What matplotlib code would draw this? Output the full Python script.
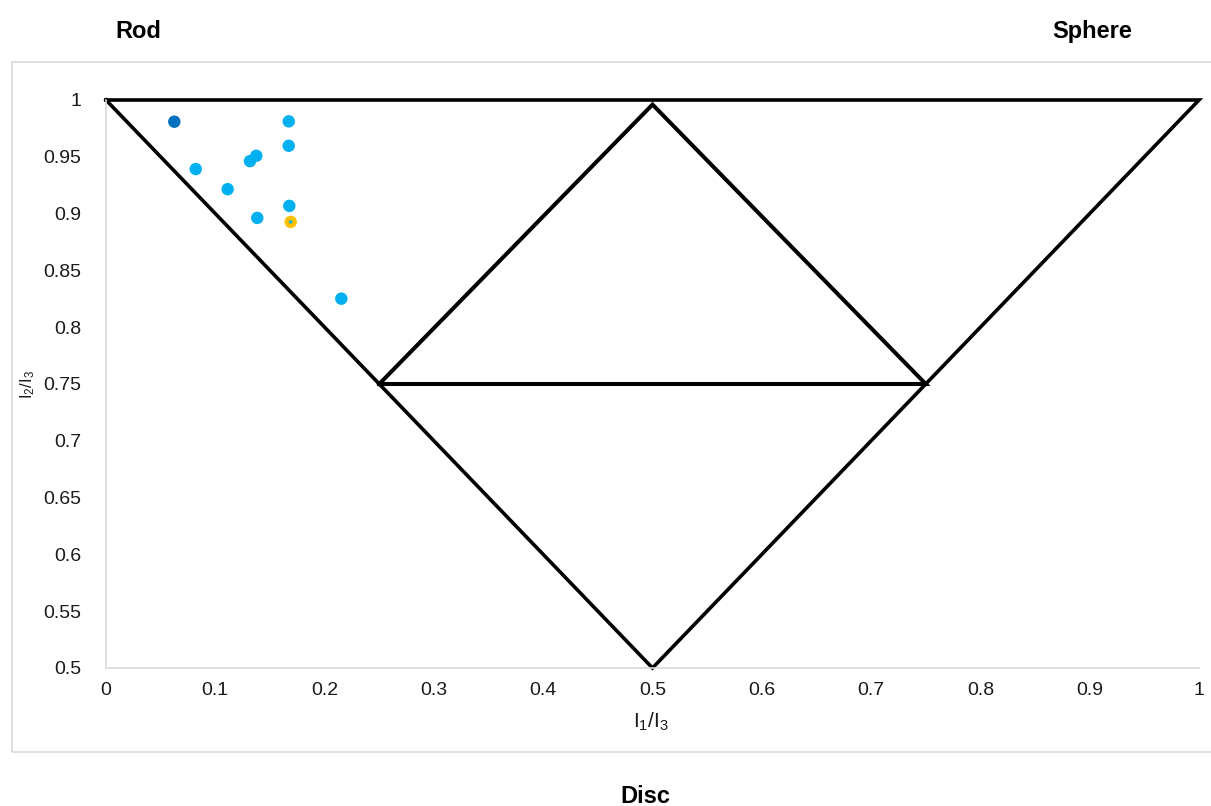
import matplotlib
matplotlib.use("Agg")
import matplotlib.pyplot as plt
from matplotlib.patches import Rectangle

plt.rcParams['font.family'] = ['Liberation Sans', 'DejaVu Sans']
plt.rcParams['mathtext.fontset'] = 'custom'
plt.rcParams['mathtext.rm'] = 'Liberation Sans'

# Data
x_light = [0.1672, 0.1672, 0.1375, 0.1317, 0.0821, 0.1113, 0.1677, 0.1384, 0.2153]
y_light = [0.9812, 0.9597, 0.9509, 0.9462, 0.9392, 0.9215, 0.9068, 0.8962, 0.8251]
x_dark = [0.0625]
y_dark = [0.9809]
x_yellow = [0.169]
y_yellow = [0.8927]

# Reference triangle boundary lines
outer_x = [0.0, 1.0, 0.5, 0.0]
outer_y = [1.0, 1.0, 0.5, 1.0]
inner_x = [0.25, 0.5, 0.75, 0.25]
inner_y = [0.75, 0.996, 0.75, 0.75]

xticks = [0, 0.1, 0.2, 0.3, 0.4, 0.5, 0.6, 0.7, 0.8, 0.9, 1]
xticklabels = ['0', '0.1', '0.2', '0.3', '0.4', '0.5', '0.6', '0.7', '0.8', '0.9', '1']
yticks = [0.5, 0.55, 0.6, 0.65, 0.7, 0.75, 0.8, 0.85, 0.9, 0.95, 1]
yticklabels = ['0.5', '0.55', '0.6', '0.65', '0.7', '0.75', '0.8', '0.85', '0.9', '0.95', '1']

W, H = 1211, 806
fig = plt.figure(figsize=(W / 100, H / 100), dpi=100)
fig.patch.set_facecolor('white')

# light frame around chart
fig.patches.append(Rectangle((12 / W, 1 - 752 / H), (1215 - 12) / W, (752 - 62) / H,
                             transform=fig.transFigure, fill=False,
                             edgecolor='#d9d9d9', linewidth=1.2))

ax = fig.add_axes([106 / W, 1 - 668 / H, (1199 - 106) / W, (668 - 100) / H])
ax.set_xlim(0, 1)
ax.set_ylim(0.5, 1)

ax.plot(outer_x, outer_y, color='black', linewidth=2.6, solid_joinstyle='miter', clip_on=False, zorder=2)
ax.plot(inner_x, inner_y, color='black', linewidth=2.9, solid_joinstyle='miter', clip_on=False, zorder=2)

ax.scatter(x_light, y_light, s=80, color='#00B0F0', edgecolors='none', zorder=3)
ax.scatter(x_dark, y_dark, s=80, color='#0070C0', edgecolors='none', zorder=3)
ax.scatter(x_yellow, y_yellow, s=80, color='#FFC000', edgecolors='none', zorder=3)
ax.scatter(x_yellow, y_yellow, s=6, color='#00B0F0', edgecolors='none', zorder=4)

ax.set_xticks(xticks)
ax.set_xticklabels(xticklabels)
ax.set_yticks(yticks)
ax.set_yticklabels(yticklabels)
ax.tick_params(axis='both', length=0, labelsize=14, colors='#1a1a1a')
ax.tick_params(axis='y', pad=18)
ax.tick_params(axis='x', pad=10)

for s in ['top', 'right']:
    ax.spines[s].set_visible(False)
for s in ['left', 'bottom']:
    ax.spines[s].set_color('#d9d9d9')
    ax.spines[s].set_linewidth(1.2)

fig.text(651 / W, 1 - 722 / H, r'$\mathregular{I_1/I_3}$', ha='center', va='center', fontsize=15, color='#1a1a1a')
fig.text(28 / W, 1 - 385 / H, r'$\mathregular{I_2/I_3}$', ha='center', va='center', rotation=90, fontsize=12, color='#1a1a1a')

fig.text(138 / W, 1 - 29 / H, 'Rod', ha='center', va='center_baseline', fontsize=17, fontweight='bold')
fig.text(1092 / W, 1 - 29 / H, 'Sphere', ha='center', va='center_baseline', fontsize=17, fontweight='bold')
fig.text(645 / W, 1 - 794 / H, 'Disc', ha='center', va='center_baseline', fontsize=17, fontweight='bold')

fig.savefig('out.png', dpi=100)
